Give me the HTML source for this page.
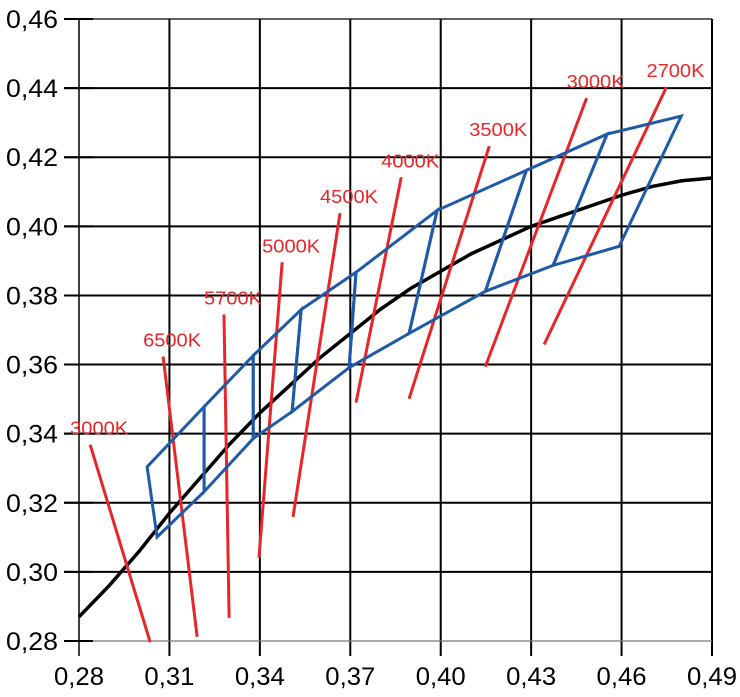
<!DOCTYPE html>
<html><head><meta charset="utf-8"><style>
html,body{margin:0;padding:0;background:#fff;}
svg{display:block;font-family:"Liberation Sans",sans-serif;}
</style></head><body>
<svg id="chart" width="740" height="697"></svg>
<script>
const xTicks=[0.28,0.31,0.34,0.37,0.40,0.43,0.46,0.49];
const xTickLabels=["0,28","0,31","0,34","0,37","0,40","0,43","0,46","0,49"];
const yTicks=[0.28,0.30,0.32,0.34,0.36,0.38,0.40,0.42,0.44,0.46];
const yTickLabels=["0,28","0,30","0,32","0,34","0,36","0,38","0,40","0,42","0,44","0,46"];
const locusX=[0.28,0.29,0.30,0.31,0.32,0.33,0.34,0.35,0.36,0.37,0.38,0.39,0.40,0.41,0.42,0.43,0.44,0.45,0.46,0.47,0.48,0.49];
const locusY=[0.287,0.296,0.306,0.317,0.327,0.337,0.346,0.354,0.362,0.369,0.376,0.382,0.387,0.392,0.396,0.400,0.403,0.406,0.409,0.4115,0.4132,0.414];
const cctLabels=["3000K","6500K","5700K","5000K","4500K","4000K","3500K","3000K","2700K"];
const isoTopX=[0.2837,0.3079,0.3281,0.3474,0.3666,0.3869,0.4161,0.4484,0.4749];
const isoTopY=[0.3368,0.3623,0.3745,0.3896,0.4038,0.4142,0.4232,0.4371,0.4403];
const isoBotX=[0.3036,0.3192,0.3298,0.3397,0.3510,0.3719,0.3895,0.4148,0.4343];
const isoBotY=[0.2797,0.2812,0.2867,0.3041,0.3159,0.3490,0.3501,0.3594,0.3658];
const quadTopX=[0.3026,0.3215,0.3378,0.3537,0.3719,0.3988,0.4284,0.4552,0.4798];
const quadTopY=[0.3304,0.3478,0.3626,0.3759,0.3867,0.4046,0.4162,0.4267,0.4319];
const quadBotX=[0.3059,0.3215,0.3378,0.3507,0.3696,0.3895,0.4148,0.4373,0.4592];
const quadBotY=[0.3101,0.3232,0.3386,0.3464,0.3591,0.3690,0.3812,0.3887,0.3942];

const NS="http://www.w3.org/2000/svg";
const svg=document.getElementById('chart');
const X0=79,X1=712,Y0=641,Y1=19;
const sx=v=>X0+(v-0.28)/(0.49-0.28)*(X1-X0);
const sy=v=>Y0-(v-0.28)/(0.46-0.28)*(Y0-Y1);
function mk(tag,attrs){const e=document.createElementNS(NS,tag);for(const k in attrs)e.setAttribute(k,attrs[k]);svg.appendChild(e);return e;}

xTicks.forEach((t,i)=>{
  const l=mk('line',{x1:sx(t),x2:sx(t),y1:Y1,y2:Y0+15,stroke:'#000','stroke-width':i==0?1.5:2});
  
  
  const tx=mk('text',{x:sx(t),y:685,'text-anchor':'middle','font-size':25,fill:'#000',textLength:50,lengthAdjust:'spacingAndGlyphs'});
  tx.textContent=xTickLabels[i];
  
  
});
yTicks.forEach((t,i)=>{
  const l=mk('line',{x1:64,x2:X1,y1:sy(t),y2:sy(t),stroke:(i==0)?'#777':'#000','stroke-width':(i==0||i==yTicks.length-1)?1.2:2});
  
  
  const tk=mk('line',{x1:64,x2:93,y1:sy(t),y2:sy(t),stroke:'#000','stroke-width':2});
  
  
  const tx=mk('text',{x:58,y:sy(t)+9,'text-anchor':'end','font-size':25,fill:'#000',textLength:52,lengthAdjust:'spacingAndGlyphs'});
  tx.textContent=yTickLabels[i];
  
  
});

const lp=mk('polyline',{points:locusX.map((v,i)=>sx(v)+','+sy(locusY[i])).join(' '),fill:'none',stroke:'#000','stroke-width':3.5});



isoTopX.forEach((v,i)=>{
  const l=mk('line',{x1:sx(v),y1:sy(isoTopY[i]),x2:sx(isoBotX[i]),y2:sy(isoBotY[i]),stroke:'#e8262a','stroke-width':3});
  
  
  const t=mk('text',{x:sx(v)-20,y:sy(isoTopY[i])-10,'font-size':18,fill:'#e8262a',textLength:58,lengthAdjust:'spacingAndGlyphs'});
  t.textContent=cctLabels[i];
  
  
});

for(let i=0;i<quadTopX.length-1;i++){
  const pts=[[quadTopX[i],quadTopY[i]],[quadTopX[i+1],quadTopY[i+1]],[quadBotX[i+1],quadBotY[i+1]],[quadBotX[i],quadBotY[i]]];
  const p=mk('polygon',{points:pts.map(q=>sx(q[0])+','+sy(q[1])).join(' '),fill:'none',stroke:'#1f5aa8','stroke-width':3,'stroke-linejoin':'miter'});
  
  
}
</script>
</body></html>
